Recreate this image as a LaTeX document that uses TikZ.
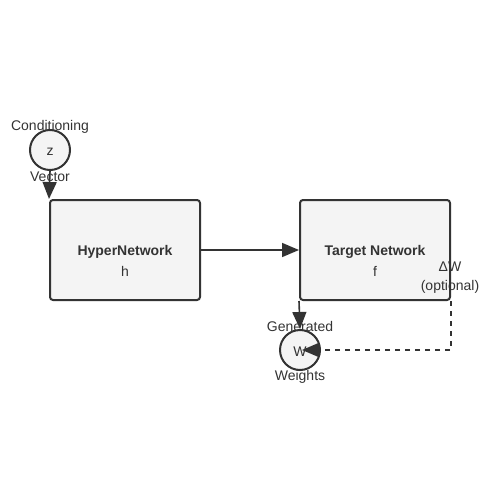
\documentclass[tikz,border=0pt]{standalone}
\usepackage{fontspec}
\setmainfont{Liberation Sans}
\usetikzlibrary{arrows.meta}
\definecolor{ink}{HTML}{333333}
\definecolor{boxfill}{HTML}{F4F4F4}
\begin{document}
\begin{tikzpicture}[x=1pt,y=-1pt,
  every node/.style={text=ink,font=\fontsize{14}{16}\selectfont},
  netbox/.style={draw=ink,fill=boxfill,line width=2pt,rounded corners=3pt,minimum width=150pt,minimum height=100pt,inner sep=0pt},
  varcirc/.style={draw=ink,fill=boxfill,line width=2pt,circle,minimum size=40pt,inner sep=0pt},
  lbl/.style={inner sep=0pt,yshift=-1.5pt},
  conn/.style={draw=ink,line width=1.6pt,-{Triangle[length=17pt,width=14pt]}}]
\useasboundingbox (0,0) rectangle (500,500);
\node[netbox] (hyper) at (125,250) {};
\node[netbox] (target) at (375,250) {};
\node[varcirc] (z) at (50,150) {};
\node[varcirc] (w) at (300,350) {};
\node[lbl] (zt) at (50,150) {z};
\node[lbl] (wt) at (300,350) {W};
\node[lbl,font=\fontsize{14}{16}\selectfont\bfseries] (ht) at (125,250) {HyperNetwork};
\node[lbl] (hh) at (125,270) {h};
\node[lbl,font=\fontsize{14}{16}\selectfont\bfseries] (tt) at (375,250) {Target Network};
\node[lbl] (tf) at (375,270) {f};
\node[lbl] (cond) at (50,125) {Conditioning};
\node[lbl] (vec) at (50,175) {Vector};
\node[lbl] (gen) at (300,325) {Generated};
\node[lbl] (wts) at (300,375) {Weights};
\node[lbl] (dw) at (450,265) {ΔW};
\node[lbl] (opt) at (450,285) {(optional)};
\coordinate (wtip) at (302,350);
\draw[conn] (z.south) -- (hyper.north west);
\draw[conn] (hyper.east) -- (target.west);
\draw[conn] (target.south west) -- (w.north);
\draw[conn,dash pattern=on 5pt off 5pt] (target.south east) |- (wtip);
\end{tikzpicture}
\end{document}
